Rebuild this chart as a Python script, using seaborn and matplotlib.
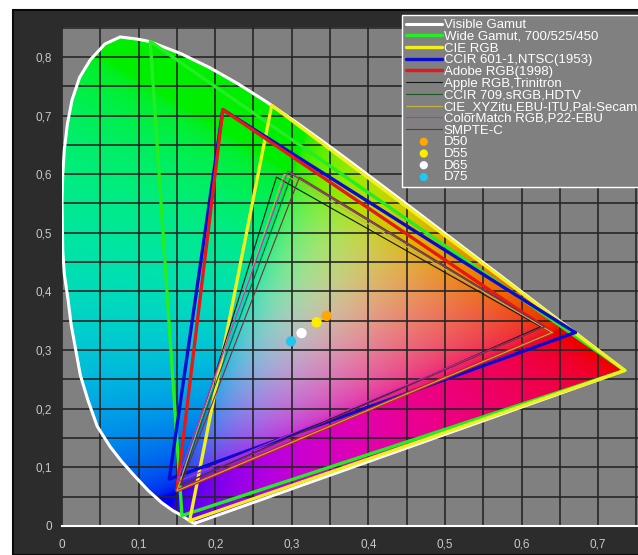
import matplotlib
matplotlib.use('Agg')
import matplotlib.pyplot as plt
import seaborn as sns
import numpy as np
import pandas as pd
from matplotlib.patches import Polygon, Rectangle

# --- Dados --- #
# Visible gamut outline as drawn in the chart (blue end -> green peak -> red end)
locus_x = [0.1741, 0.1733, 0.1714, 0.1669, 0.1566, 0.1450, 0.1300, 0.1130, 0.0950,
           0.0780, 0.0630, 0.0460, 0.0340, 0.0240, 0.0180, 0.0120, 0.0080, 0.0030,
           0.0010, 0.0000, 0.0010, 0.0030, 0.0070, 0.0130, 0.0230, 0.0370, 0.0560,
           0.0760, 0.1000, 0.1142, 0.1547, 0.1929, 0.2296, 0.2658, 0.3016, 0.3373,
           0.3731, 0.4087, 0.4441, 0.4788, 0.5125, 0.5448, 0.5752, 0.6029, 0.6270,
           0.6482, 0.6658, 0.6801, 0.6915, 0.7006, 0.7079, 0.7140, 0.7190, 0.7230,
           0.7260, 0.7300, 0.7320, 0.7334, 0.7347]
locus_y = [0.0050, 0.0048, 0.0051, 0.0086, 0.0177, 0.0260, 0.0400, 0.0600, 0.0850,
           0.1100, 0.1350, 0.1700, 0.2140, 0.2570, 0.3000, 0.3430, 0.3850, 0.4300,
           0.4700, 0.5560, 0.6000, 0.6410, 0.6850, 0.7260, 0.7650, 0.7950, 0.8220,
           0.8340, 0.8300, 0.8262, 0.8059, 0.7816, 0.7543, 0.7243, 0.6923, 0.6589,
           0.6245, 0.5896, 0.5547, 0.5202, 0.4866, 0.4544, 0.4242, 0.3965, 0.3725,
           0.3514, 0.3340, 0.3197, 0.3083, 0.2993, 0.2920, 0.2859, 0.2809, 0.2770,
           0.2740, 0.2700, 0.2680, 0.2666, 0.2653]

gamut_names = ['Wide Gamut, 700/525/450', 'CIE RGB', 'CCIR 601-1,NTSC(1953)', 'Adobe RGB(1998)',
               'Apple RGB,Trinitron', 'CCIR 709,sRGB,HDTV', 'CIE_XYZitu,EBU-ITU,Pal-Secam',
               'ColorMatch RGB,P22-EBU', 'SMPTE-C']
red_x = [0.7347, 0.7347, 0.67, 0.64, 0.625, 0.64, 0.64, 0.63, 0.63]
red_y = [0.2653, 0.2653, 0.33, 0.33, 0.34, 0.33, 0.33, 0.34, 0.34]
green_x = [0.1152, 0.2738, 0.21, 0.21, 0.28, 0.30, 0.29, 0.295, 0.31]
green_y = [0.8264, 0.7174, 0.71, 0.71, 0.595, 0.60, 0.60, 0.605, 0.595]
blue_x = [0.1566, 0.1666, 0.14, 0.15, 0.155, 0.15, 0.15, 0.15, 0.155]
blue_y = [0.0177, 0.0089, 0.08, 0.06, 0.07, 0.06, 0.06, 0.075, 0.07]
gamut_colors = ['#22ee22', '#f0f020', '#0a0ad0', '#e81818', '#151515', '#1f5a26',
                '#c8b448', '#c828c8', '#7a2e2e']
gamut_widths = [2.4, 2.4, 2.4, 2.4, 0.8, 0.8, 0.8, 0.8, 0.8]

white_names = ['D50', 'D55', 'D65', 'D75']
white_x = [0.3457, 0.3324, 0.3127, 0.2990]
white_y = [0.3585, 0.3474, 0.3290, 0.3149]
white_colors = ['#ffa800', '#ffec00', '#ffffff', '#20c8f0']

xtick_vals = [0, 0.1, 0.2, 0.3, 0.4, 0.5, 0.6, 0.7]
xtick_labels = ['0', '0,1', '0,2', '0,3', '0,4', '0,5', '0,6', '0,7']
ytick_vals = [0, 0.1, 0.2, 0.3, 0.4, 0.5, 0.6, 0.7, 0.8]
ytick_labels = ['0', '0,1', '0,2', '0,3', '0,4', '0,5', '0,6', '0,7', '0,8']

# --- Estilo --- #
sns.set_style('dark')
plt.rcParams['font.family'] = ['Liberation Sans', 'DejaVu Sans']

fig = plt.figure(figsize=(6.38, 5.55), dpi=100, facecolor='white')
# dark panel of the screenshot (white margin at top/left)
fig.patches.append(Rectangle((13 / 638, 0), 1, 1 - 10 / 555, transform=fig.transFigure,
                             facecolor='#2c2c2c', edgecolor='#0a0a0a', lw=1.5, zorder=-5))

ax = fig.add_axes([62 / 638, 1 - 526 / 555, 1 - 62 / 638, (526 - 27) / 555])
ax.set_facecolor('#808080')
x_max = 0.752
y_max = 0.851

# chromaticity fill
gx = np.linspace(0.0005, x_max, 500)
gy = np.linspace(0.0005, y_max, 560)
XX, YY = np.meshgrid(gx, gy)
XYZ = np.stack([XX / YY, np.ones_like(XX), (1 - XX - YY) / YY], axis=-1)
M = np.array([[3.2406, -1.5372, -0.4986],
              [-0.9689, 1.8758, 0.0415],
              [0.0557, -0.2040, 1.0570]])
rgb = XYZ @ M.T
rgb = np.clip(rgb, 0, None)
rgb = rgb / np.linalg.norm(rgb, axis=-1, keepdims=True)
rgb = 0.94 * np.clip(rgb, 0, 1) ** (1 / 2.2)
im = ax.imshow(rgb, extent=(gx[0], gx[-1], gy[0], gy[-1]), origin='lower',
               aspect='auto', interpolation='bilinear', zorder=0)
clip = Polygon(np.column_stack([locus_x, locus_y]), closed=True, transform=ax.transData)
im.set_clip_path(clip)

# visible gamut
vis = pd.DataFrame({'x': locus_x + [locus_x[0]], 'y': locus_y + [locus_y[0]]})
sns.lineplot(data=vis, x='x', y='y', sort=False, estimator=None, color='white',
             lw=2.2, label='Visible Gamut', ax=ax, zorder=3)

for i, name in enumerate(gamut_names):
    tri = pd.DataFrame({'x': [red_x[i], green_x[i], blue_x[i], red_x[i]],
                        'y': [red_y[i], green_y[i], blue_y[i], red_y[i]]})
    sns.lineplot(data=tri, x='x', y='y', sort=False, estimator=None,
                 color=gamut_colors[i], lw=gamut_widths[i], label=name, ax=ax, zorder=3)

for i, name in enumerate(white_names):
    sns.scatterplot(x=[white_x[i]], y=[white_y[i]], color=white_colors[i], s=55,
                    edgecolor='none', label=name, ax=ax, zorder=5)

ax.set_xlim(0, x_max)
ax.set_ylim(0, y_max)
ax.set_xticks(xtick_vals)
ax.set_xticklabels(xtick_labels)
ax.set_yticks(ytick_vals)
ax.set_yticklabels(ytick_labels)
ax.set_xticks(np.arange(0.05, x_max, 0.1), minor=True)
ax.set_yticks(np.arange(0.05, y_max, 0.1), minor=True)
ax.grid(True, which='both', color='#262626', lw=1.2)
ax.set_axisbelow('line')
ax.set_xlabel('')
ax.set_ylabel('')
ax.tick_params(axis='x', which='major', colors='#c8c8c8', labelsize=8.5, length=4,
               width=1, direction='out', pad=5)
ax.tick_params(axis='y', which='major', colors='#c8c8c8', labelsize=8.5, length=4,
               width=1, direction='out', pad=3)
ax.tick_params(which='minor', length=0)
for s in ['top', 'right', 'left']:
    ax.spines[s].set_visible(False)
ax.spines['bottom'].set_color('white')
ax.spines['bottom'].set_linewidth(1.5)

leg = ax.legend(loc='upper left', bbox_to_anchor=(402 / 638, 1 - 15 / 555),
                bbox_transform=fig.transFigure, fontsize=9.5, labelspacing=-0.04,
                handlelength=2.7, handletextpad=0.15, borderpad=0.3, borderaxespad=0,
                fancybox=False, framealpha=1, facecolor='#808080', edgecolor='white',
                markerscale=0.8)
leg.get_frame().set_linewidth(1.0)
for t in leg.get_texts():
    t.set_color('white')

fig.savefig('out.png', dpi=100, facecolor=fig.get_facecolor())
